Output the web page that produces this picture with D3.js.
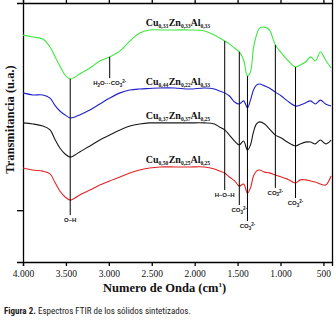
<!DOCTYPE html>
<html>
<head>
<meta charset="utf-8">
<script src="https://cdn.jsdelivr.net/npm/d3@7"></script>
<style>
body{margin:0;background:#fff}
svg{display:block}
</style>
</head>
<body>
<svg class="chart"></svg>
<script>
// wavenumbers (cm-1) shared by all four spectra
const wavenumber = [4000, 3885, 3770, 3685, 3630, 3570, 3510, 3450, 3395, 3340,
  3220, 3105, 2990, 2870, 2755, 2640, 2525, 2405, 2235, 2060,
  1885, 1770, 1710, 1650, 1595, 1535, 1480, 1430, 1385, 1350,
  1315, 1280, 1245, 1185, 1130, 1060, 990, 920, 825, 770,
  710, 650, 595, 535, 475, 410]

// transmittance (u.a.), curves stacked with offsets as in the figure
const cu33 = [87.6, 86.9, 86.1, 83.0, 79.5, 75.7, 72.2, 70.7, 71.4, 72.6,
  74.9, 77.6, 79.2, 81.5, 85.3, 88.4, 89.6, 89.6, 89.6, 89.6,
  89.2, 87.6, 86.5, 85.3, 84.2, 82.6, 81.1, 78.0, 71.8, 73.4,
  82.6, 87.6, 90.3, 90.7, 89.6, 83.8, 80.7, 78.0, 75.3, 76.1,
  77.2, 79.2, 77.6, 81.1, 78.0, 74.9]
const cu44 = [65.3, 64.5, 64.5, 63.3, 60.6, 58.3, 56.8, 55.6, 56.0, 56.8,
  58.7, 61.0, 63.3, 65.3, 66.4, 66.8, 67.0, 67.2, 67.2, 66.8,
  67.2, 66.8, 66.0, 65.3, 64.1, 61.8, 61.0, 62.2, 59.5, 62.5,
  66.4, 68.3, 68.7, 68.0, 67.2, 65.6, 64.1, 62.2, 60.2, 60.6,
  61.4, 62.2, 61.0, 62.5, 61.0, 60.2]
const cu37 = [53.7, 53.3, 52.5, 51.0, 47.5, 44.0, 41.7, 40.5, 41.3, 42.5,
  44.8, 47.1, 49.0, 51.0, 52.5, 53.3, 53.7, 53.7, 53.7, 53.7,
  53.7, 53.3, 52.1, 51.0, 49.0, 46.7, 45.2, 46.7, 43.2, 45.2,
  50.2, 53.3, 54.1, 53.3, 51.4, 49.0, 47.9, 46.3, 44.8, 45.6,
  46.3, 46.3, 45.6, 47.1, 45.6, 47.1]
const cu50 = [36.3, 35.5, 35.1, 34.0, 30.9, 27.4, 25.1, 23.9, 24.7, 25.9,
  27.8, 29.7, 31.3, 32.8, 34.4, 35.5, 36.3, 36.7, 36.7, 36.7,
  36.7, 35.9, 35.1, 34.4, 32.8, 31.3, 29.3, 30.1, 26.6, 28.6,
  33.2, 35.1, 35.5, 34.7, 34.4, 33.6, 32.8, 32.0, 30.5, 31.7,
  31.7, 31.3, 30.9, 30.1, 29.7, 33.2]

const seriesNames = ['Cu_0,33 Zn_0,33 Al_0,33', 'Cu_0,44 Zn_0,22 Al_0,33',
  'Cu_0,37 Zn_0,37 Al_0,25', 'Cu_0,50 Zn_0,25 Al_0,25']

// band assignments: position, lower end of the marker line, label
const bandWn = [3450, 2990, 1650, 1480, 1385, 1060, 825]
const bandEnd = [18.1, 71.0, 27.8, 22.0, 15.8, 28.6, 24.7]
const bandLabel = ['O–H', 'H_2O···CO_3^2-', 'H–O–H', 'CO_3^2-', 'CO_3^2-', 'CO_3^2-', 'CO_3^2-']

const xTicks = [4000, 3500, 3000, 2500, 2000, 1500, 1000, 500]

function graph(){
    const svg = d3.select('.chart')
    .attr('width', 336)
    .attr('height', 320)

    const width = +svg.attr('width')
    const height = +svg.attr('height')

    const margin = {top: 3, right: 4, bottom: 58, left: 23}
    const innerWidth = width - margin.left - margin.right
    const innerHeight = height - margin.top - margin.bottom

    const g = svg.append('g')
    .attr('transform', `translate(${margin.left}, ${margin.top})`)

    //scale
    const xScale = d3.scaleLinear().domain([4000, 400]).range([0, innerWidth])
    const yScale = d3.scaleLinear().domain([0, 100]).range([innerHeight, 0])

    const locale = d3.formatLocale({decimal: ',', thousands: '.', grouping: [3], currency: ['', '']})
    const fmt = locale.format(',')

    // sub/superscript text helper: _x subscript, ^x superscript
    const richText = (sel, str, size, small) => {
        let shift = 0
        for (const p of str.matchAll(/_([0-9,]+)|\^([0-9+\-]+)|([^_^]+)/g)) {
            let target = 0, fs = size, txt = p[3]
            if (p[1]) { txt = p[1]; target = size * 0.25; fs = small }
            else if (p[2]) { txt = p[2]; target = -size * 0.4; fs = small }
            sel.append('tspan').attr('dy', target - shift).attr('font-size', fs).text(txt)
            shift = target
        }
    }

    //axes
    const xAxisG = g.append('g')
    .attr('transform', `translate(0, ${innerHeight})`)
    .call(d3.axisBottom(xScale).tickValues(xTicks).tickFormat(fmt).tickSize(4).tickPadding(4))
    xAxisG.selectAll('text')
    .attr('font-family', '"Liberation Serif", "Times New Roman", serif')
    .attr('font-size', 9.5)
    .attr('fill', '#111')

    g.append('g')
    .call(d3.axisTop(xScale).tickValues(xTicks).tickFormat('').tickSize(3))

    g.append('g')
    .call(d3.axisLeft(yScale).tickValues([20]).tickFormat('').tickSize(6))

    g.append('g')
    .attr('transform', `translate(${innerWidth}, 0)`)
    .call(d3.axisRight(yScale).tickValues([]).tickSizeOuter(0))

    g.selectAll('.domain, .tick line')
    .attr('stroke', '#000')
    .attr('stroke-width', 1.3)

    //spectra
    const series = [
        {name: seriesNames[0], values: cu33, color: '#3ee83e'},
        {name: seriesNames[1], values: cu44, color: '#2020c8'},
        {name: seriesNames[2], values: cu37, color: '#1a1a1a'},
        {name: seriesNames[3], values: cu50, color: '#e02424'}
    ]

    const line = d3.line()
    .x((d, i) => xScale(wavenumber[i]))
    .y(d => yScale(d))
    .curve(d3.curveCatmullRom.alpha(0.5))

    g.selectAll('path.spectrum')
    .data(series)
    .enter()
    .append('path')
    .attr('class', 'spectrum')
    .attr('d', d => line(d.values))
    .attr('fill', 'none')
    .attr('stroke', d => d.color)
    .attr('stroke-width', 1.1)

    //band marker lines from the top spectrum down to the labels
    const bands = bandWn.map((wn, i) => ({
        wn: wn,
        top: cu33[wavenumber.indexOf(wn)],
        end: bandEnd[i],
        label: bandLabel[i]
    }))

    g.selectAll('line.band')
    .data(bands)
    .enter()
    .append('line')
    .attr('class', 'band')
    .attr('x1', d => xScale(d.wn))
    .attr('x2', d => xScale(d.wn))
    .attr('y1', d => yScale(d.top))
    .attr('y2', d => yScale(d.end))
    .attr('stroke', '#000')
    .attr('stroke-width', 1)

    g.selectAll('text.band')
    .data(bands)
    .enter()
    .append('text')
    .attr('class', 'band')
    .attr('x', d => xScale(d.wn))
    .attr('y', d => yScale(d.end) + 7)
    .attr('text-anchor', 'middle')
    .attr('font-family', '"Liberation Sans", Arial, sans-serif')
    .attr('font-weight', 'bold')
    .attr('fill', '#111')
    .each(function(d){ richText(d3.select(this), d.label, 6, 4.5) })

    //series labels
    g.selectAll('text.series')
    .data(series)
    .enter()
    .append('text')
    .attr('class', 'series')
    .attr('x', xScale(2570))
    .attr('y', d => yScale(d.values[wavenumber.indexOf(2060)]) - 4)
    .attr('font-family', '"Liberation Serif", "Times New Roman", serif')
    .attr('font-weight', 'bold')
    .attr('word-spacing', -2)
    .attr('fill', '#111')
    .each(function(d){ richText(d3.select(this), d.name, 10, 5.5) })

    //axis titles
    const xTitle = svg.append('text')
    .attr('x', margin.left + xScale(2350))
    .attr('y', 292)
    .attr('text-anchor', 'middle')
    .attr('font-family', '"Liberation Serif", "Times New Roman", serif')
    .attr('font-weight', 'bold')
    .attr('font-size', 12.5)
    .attr('fill', '#111')
    xTitle.append('tspan').text('Numero de Onda (cm')
    xTitle.append('tspan').attr('dy', -5).attr('font-size', 7).text('1')
    xTitle.append('tspan').attr('dy', 5).text(')')

    svg.append('text')
    .attr('transform', `translate(14, ${margin.top + yScale(55)}) rotate(-90)`)
    .attr('text-anchor', 'middle')
    .attr('font-family', '"Liberation Serif", "Times New Roman", serif')
    .attr('font-weight', 'bold')
    .attr('font-size', 12.5)
    .attr('fill', '#111')
    .text('Transmitancia (u.a.)')

    //caption
    const cap = svg.append('text')
    .attr('x', 4)
    .attr('y', 314)
    .attr('font-family', '"Liberation Sans Narrow", "Roboto Condensed", "Liberation Sans", Arial, sans-serif')
    .attr('font-size', 9)
    .attr('fill', '#222')
    cap.append('tspan').attr('font-weight', 'bold').text('Figura 2.')
    cap.append('tspan').text(' Espectros FTIR de los sólidos sintetizados.')
}
graph()
</script>
</body>
</html>
